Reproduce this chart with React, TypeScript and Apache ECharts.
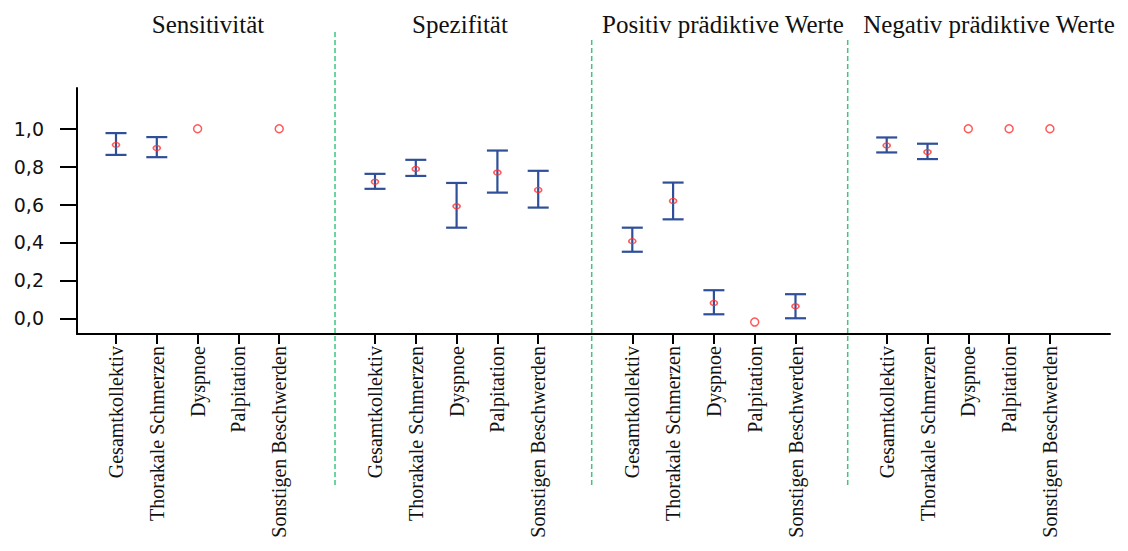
import React, { useEffect, useRef } from "react";
import * as echarts from "echarts";

// Symptom groups shown in each panel
const categories = [
  "Gesamtkollektiv",
  "Thorakale Schmerzen",
  "Dyspnoe",
  "Palpitation",
  "Sonstigen Beschwerden",
];

const panelTitles = [
  "Sensitivität",
  "Spezifität",
  "Positiv prädiktive Werte",
  "Negativ prädiktive Werte",
];

const yTickValues = [0, 0.2, 0.4, 0.6, 0.8, 1.0];

// Point estimates and 95% confidence limits per panel (null = not available)
const sensitivity = [0.915, 0.898, 1.0, null, 1.0];
const sensitivityLower = [0.862, 0.85, null, null, null];
const sensitivityUpper = [0.977, 0.956, null, null, null];

const specificity = [0.72, 0.788, 0.591, 0.769, 0.677];
const specificityLower = [0.683, 0.751, 0.478, 0.663, 0.584];
const specificityUpper = [0.762, 0.836, 0.714, 0.885, 0.778];

const ppv = [0.407, 0.619, 0.081, -0.02, 0.063];
const ppvLower = [0.351, 0.522, 0.021, null, 0.0];
const ppvUpper = [0.478, 0.716, 0.148, null, 0.127];

const npv = [0.912, 0.877, 1.0, 1.0, 1.0];
const npvLower = [0.875, 0.84, null, null, null];
const npvUpper = [0.954, 0.921, null, null, null];

const panels = [
  { values: sensitivity, lower: sensitivityLower, upper: sensitivityUpper },
  { values: specificity, lower: specificityLower, upper: specificityUpper },
  { values: ppv, lower: ppvLower, upper: ppvUpper },
  { values: npv, lower: npvLower, upper: npvUpper },
];

// Layout
const Y_MIN = -0.083;
const Y_MAX = 1.215;
const GRID_TOP = 88;
const GRID_BOTTOM = 217;
const PANEL_LEFTS = [95.6, 354.6, 611.9, 866.3];
const PANEL_WIDTH = 204;
const TITLE_X = [208, 460, 723, 989];
const DIVIDERS = [
  { x: 335, top: 32 },
  { x: 591.7, top: 40 },
  { x: 847.7, top: 40 },
];

const CI_COLOR = "#2f4f98";
const POINT_COLOR = "#ff3030";
const DIVIDER_COLOR = "#3fc57c";
const SERIF = '"Liberation Serif", "Times New Roman", serif';

export default function App() {
  const ref = useRef<HTMLDivElement>(null);

  useEffect(() => {
    if (!ref.current) return;
    const chart = echarts.init(ref.current, undefined, { renderer: "svg" });

    const grids: any[] = [
      { left: 77, right: 18, top: GRID_TOP, bottom: GRID_BOTTOM },
    ];
    const xAxes: any[] = [
      {
        type: "value",
        gridIndex: 0,
        min: 0,
        max: 1,
        axisLine: {
          show: true,
          onZero: false,
          lineStyle: { color: "#000", width: 2 },
        },
        axisTick: { show: false },
        axisLabel: { show: false },
        splitLine: { show: false },
      },
    ];
    const yAxes: any[] = [
      {
        type: "value",
        gridIndex: 0,
        min: Y_MIN,
        max: Y_MAX,
        axisLine: {
          show: true,
          onZero: false,
          lineStyle: { color: "#000", width: 2 },
        },
        axisTick: {
          show: true,
          length: 17,
          customValues: yTickValues,
          lineStyle: { color: "#000", width: 2 },
        },
        axisLabel: {
          show: true,
          customValues: yTickValues,
          margin: 33,
          fontFamily: '"DejaVu Sans", sans-serif',
          fontSize: 19,
          color: "#111",
          padding: [0, 0, 8, 0],
          formatter: (v: number) => v.toFixed(1).replace(".", ","),
        },
        splitLine: { show: false },
      },
    ];
    const series: any[] = [];

    panels.forEach((p, k) => {
      const gi = k + 1;
      grids.push({
        left: PANEL_LEFTS[k],
        width: PANEL_WIDTH,
        top: GRID_TOP,
        bottom: GRID_BOTTOM,
      });
      xAxes.push({
        type: "category",
        gridIndex: gi,
        data: categories,
        boundaryGap: true,
        axisLine: { show: false, onZero: false },
        axisTick: {
          show: true,
          alignWithLabel: true,
          interval: 0,
          length: 10,
          lineStyle: { color: "#000", width: 2 },
        },
        axisLabel: {
          interval: 0,
          rotate: 90,
          margin: 12,
          fontFamily: SERIF,
          fontSize: 20,
          color: "#111",
        },
        splitLine: { show: false },
      });
      yAxes.push({
        type: "value",
        gridIndex: gi,
        min: Y_MIN,
        max: Y_MAX,
        show: false,
      });

      const ciData: any[] = [];
      p.values.forEach((_, i) => {
        if (p.lower[i] != null && p.upper[i] != null) {
          ciData.push([i, p.lower[i], p.upper[i]]);
        }
      });

      series.push({
        type: "custom",
        xAxisIndex: gi,
        yAxisIndex: gi,
        z: 2,
        data: ciData,
        renderItem: (params: any, api: any) => {
          const x = api.value(0);
          const lo = api.coord([x, api.value(1)]);
          const hi = api.coord([x, api.value(2)]);
          const half = 10.5;
          const style = { stroke: CI_COLOR, lineWidth: 2.2 };
          return {
            type: "group",
            children: [
              {
                type: "line",
                shape: { x1: lo[0], y1: lo[1], x2: hi[0], y2: hi[1] },
                style,
              },
              {
                type: "line",
                shape: { x1: hi[0] - half, y1: hi[1], x2: hi[0] + half, y2: hi[1] },
                style,
              },
              {
                type: "line",
                shape: { x1: lo[0] - half, y1: lo[1], x2: lo[0] + half, y2: lo[1] },
                style,
              },
            ],
          };
        },
      });

      const pointData: any[] = [];
      p.values.forEach((v, i) => {
        if (v == null) return;
        const hasCI = p.lower[i] != null;
        pointData.push({
          value: [i, v],
          symbolSize: hasCI ? [7, 5] : 8,
        });
      });

      series.push({
        type: "scatter",
        xAxisIndex: gi,
        yAxisIndex: gi,
        z: 3,
        symbol: "circle",
        data: pointData,
        itemStyle: {
          color: "rgba(255,255,255,0)",
          borderColor: POINT_COLOR,
          borderWidth: 1.5,
        },
      });
    });

    const graphics: any[] = [];
    panelTitles.forEach((t, k) => {
      graphics.push({
        type: "text",
        x: TITLE_X[k],
        y: 24,
        style: {
          text: t,
          fontFamily: SERIF,
          fontSize: 25,
          fill: "#111",
          align: "center",
          verticalAlign: "middle",
        },
      });
    });
    DIVIDERS.forEach((d) => {
      graphics.push({
        type: "line",
        shape: { x1: d.x, y1: d.top, x2: d.x, y2: 485 },
        style: { stroke: DIVIDER_COLOR, lineWidth: 1.5, lineDash: [5, 3] },
      });
    });

    chart.setOption({
      animation: false,
      backgroundColor: "#fff",
      grid: grids,
      xAxis: xAxes,
      yAxis: yAxes,
      series,
      graphic: graphics,
    });

    return () => chart.dispose();
  }, []);

  return (
    <div
      ref={ref}
      style={{ position: "fixed", left: 0, top: 0, width: 1128, height: 551 }}
    />
  );
}
